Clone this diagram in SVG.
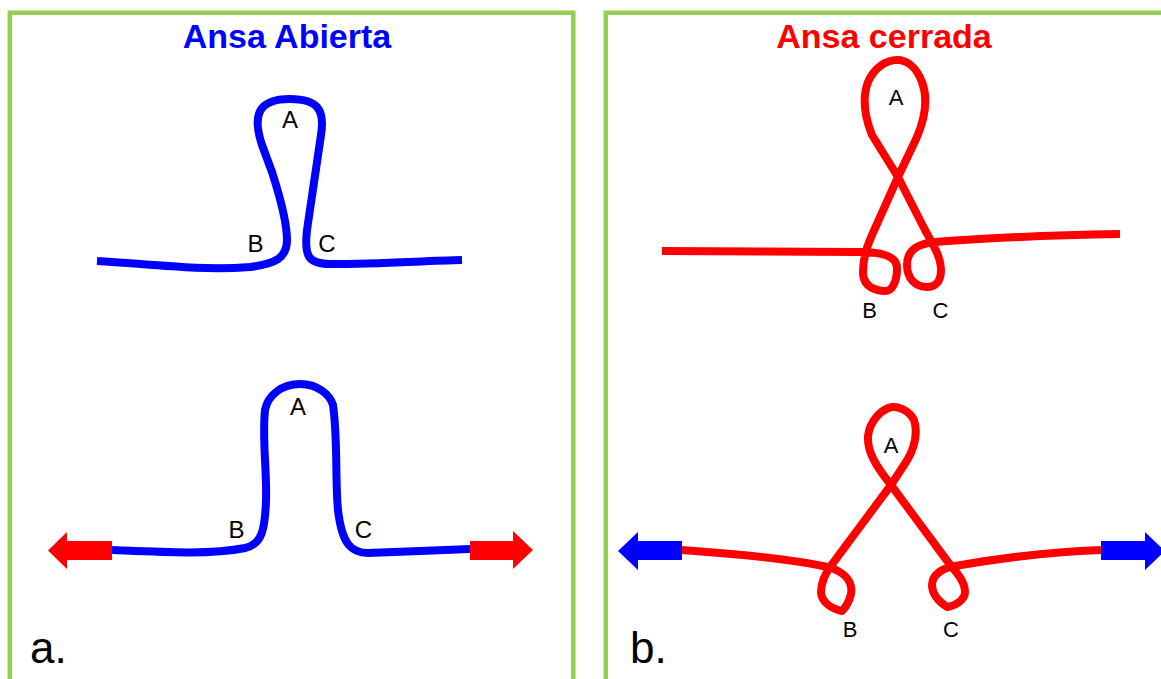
<svg xmlns="http://www.w3.org/2000/svg" width="1161" height="679" viewBox="0 0 1161 679">
<style>
.frame{fill:none;stroke:#92D050;stroke-width:4.5}
.blue{fill:none;stroke:#0000FF;stroke-width:8;stroke-linecap:butt;stroke-linejoin:round}
.red{fill:none;stroke:#FF0000;stroke-width:8;stroke-linecap:butt;stroke-linejoin:round}
.lbl{font-family:"Liberation Sans",Arial,sans-serif;font-size:22px;fill:#000;text-anchor:middle}
.big{font-size:24px}
.title{font-family:"Liberation Sans",Arial,sans-serif;font-size:34px;font-weight:bold;text-anchor:middle}
.tag{font-family:"Liberation Sans",Arial,sans-serif;font-size:44px;fill:#000}
.arR{fill:#FF0000}
.arB{fill:#0000FF}
</style>
<rect width="1161" height="679" fill="#FFFFFF"/>
<g id="panel-a">
  <path class="frame" d="M9.8,690 L9.8,12.8 L573.3,12.8 L573.3,690"/>
  <text class="title" x="287" y="48" fill="#0000FF">Ansa Abierta</text>
  <text class="tag" x="30" y="663">a.</text>
</g>
<g id="panel-b">
  <path class="frame" d="M605.8,690 L605.8,12.8 L1170,12.8"/>
  <text class="title" x="884" y="48" fill="#FF0000">Ansa cerrada</text>
  <text class="tag" x="630" y="663">b.</text>
</g>
<g id="open-loop-top">
  <path class="blue" d="M97,261 C150,264 200,271 250,267 C275,264 287,258 287,240 C287,222 281,200 272,172 L262,145 C252,115 258,99 290,99 C318,99 325,110 321,135 L307,230 C304,256 308,264 330,264 C380,264 420,261 462,260"/>
  <text class="lbl big" x="290" y="128">A</text>
  <text class="lbl big" x="255.5" y="252">B</text>
  <text class="lbl big" x="327" y="252">C</text>
</g>
<g id="open-loop-bottom">
  <path class="blue" d="M112,550 C160,552 210,555 245,548 C262,544 265,530 266,500 C267,470 262,440 265,410 C268,395 282,384 300,384 C318,384 330,395 333,405 C338,440 335,480 338,510 C342,545 352,553 368,553 C400,552 440,550 470,549"/>
  <text class="lbl big" x="298" y="415">A</text>
  <text class="lbl big" x="236.5" y="538">B</text>
  <text class="lbl big" x="363.5" y="538">C</text>
</g>
<g id="closed-loop-top">
  <path class="red" d="M662,251 L860,252 C880,252 897,255 897,268 C897,282 892,292 884,291 C872,290 863,285 863,272 C863,258 866,248 872,235 L898,177 L917,137 C925,118 928,98 922,82 C916,66 906,60 897,60 C886,60 874,68 868,82 C862,98 864,115 872,135 L898,177 L925,230 C935,248 941,258 941,270 C941,282 935,287 927,287 C915,287 907,278 907,265 C907,252 915,244 935,242 C1000,237 1060,235 1120,234"/>
  <text class="lbl" x="896" y="105">A</text>
  <text class="lbl" x="869.5" y="318">B</text>
  <text class="lbl" x="940.5" y="318">C</text>
</g>
<g id="closed-loop-bottom">
  <path class="red" d="M681,550 C740,554 795,560 828,567 C845,572 853,582 851,594 C849,602 845,608 842,611 C832,609 821,602 821,592 C821,582 826,572 833,563 L891,485 L906,462 C915,448 918,432 914,420 C910,412 900,406 892,407 C882,409 870,420 868,436 C867,452 876,466 891,485 L948,562 C958,574 965,582 965,592 C965,600 955,606 947,607 C938,601 932,594 932,585 C932,575 942,568 955,566 C1000,558 1050,552 1101,550"/>
  <text class="lbl" x="891" y="453">A</text>
  <text class="lbl" x="850" y="637">B</text>
  <text class="lbl" x="951" y="637">C</text>
</g>
<g id="connectors">
  <polygon class="arR" points="48,550.5 67,532 67,541 112,541 112,560 67,560 67,569"/>
  <polygon class="arR" points="470,541 513,541 513,531 533,550 513,569 513,560 470,560"/>
  <polygon class="arB" points="618,551 638,532 638,541 682,541 682,560 638,560 638,570"/>
  <polygon class="arB" points="1101,541 1145,541 1145,532 1165,551 1145,570 1145,560 1101,560"/>
</g>
</svg>
